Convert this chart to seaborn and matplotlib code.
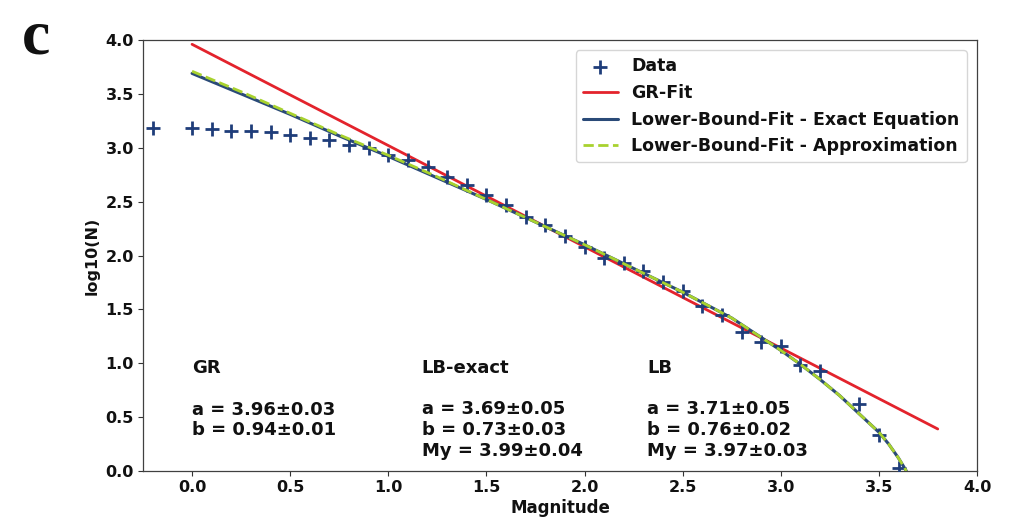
import matplotlib
matplotlib.use("Agg")
import matplotlib.pyplot as plt
import seaborn as sns

# Magnitude-frequency data (cumulative counts, log10)
magnitude = [-0.2, 0.0, 0.1, 0.2, 0.3, 0.4, 0.5, 0.6, 0.7, 0.8, 0.9,
             1.0, 1.1, 1.2, 1.3, 1.4, 1.5, 1.6, 1.7, 1.8, 1.9,
             2.0, 2.1, 2.2, 2.3, 2.4, 2.5, 2.6, 2.7, 2.8, 2.9,
             3.0, 3.1, 3.2, 3.4, 3.5, 3.6]
log_n = [3.18, 3.18, 3.17, 3.16, 3.155, 3.15, 3.12, 3.09, 3.07, 3.03, 3.00,
         2.93, 2.89, 2.82, 2.73, 2.65, 2.56, 2.47, 2.36, 2.28, 2.18,
         2.08, 1.98, 1.93, 1.86, 1.75, 1.67, 1.53, 1.45, 1.29, 1.20,
         1.16, 0.98, 0.93, 0.62, 0.33, 0.03]

# Gutenberg-Richter straight-line fit
gr_mag = [0.0, 3.8]
gr_logn = [3.96, 0.39]

# Lower-bound fits
lb_mag = [0.0, 0.25, 0.5, 0.75, 1.0, 1.25, 1.5, 1.75, 2.0, 2.25, 2.5, 2.75,
          3.0, 3.1, 3.2, 3.3, 3.4, 3.5, 3.55, 3.6, 3.64]
lb_exact = [3.69, 3.50, 3.31, 3.11, 2.92, 2.72, 2.52, 2.31, 2.10, 1.88, 1.66, 1.42,
            1.12, 0.99, 0.85, 0.70, 0.53, 0.36, 0.25, 0.12, 0.0]
lb_approx = [3.71, 3.52, 3.32, 3.12, 2.93, 2.73, 2.52, 2.31, 2.10, 1.88, 1.66, 1.42,
             1.12, 0.99, 0.85, 0.70, 0.53, 0.36, 0.25, 0.12, 0.0]

x_ticks = [0.0, 0.5, 1.0, 1.5, 2.0, 2.5, 3.0, 3.5, 4.0]
y_ticks = [0.0, 0.5, 1.0, 1.5, 2.0, 2.5, 3.0, 3.5, 4.0]

gr_text = "GR\n\na = 3.96\u00b10.03\nb = 0.94\u00b10.01"
lbx_text = "LB-exact\n\na = 3.69\u00b10.05\nb = 0.73\u00b10.03\nMy = 3.99\u00b10.04"
lb_text = "LB\n\na = 3.71\u00b10.05\nb = 0.76\u00b10.02\nMy = 3.97\u00b10.03"

sns.set_theme(style="ticks")
plt.rcParams["font.family"] = ["DejaVu Sans"]
plt.rcParams["font.weight"] = "bold"
plt.rcParams["text.color"] = "#111111"

W, H = 1025, 523
fig = plt.figure(figsize=(W / 100, H / 100), dpi=100)
fig.patch.set_facecolor("white")
ax = fig.add_axes([143 / W, 1 - 471 / H, (977 - 143) / W, (471 - 40) / H])

navy = "#1f3d7a"
sns.scatterplot(x=magnitude, y=log_n, marker="+", s=90, linewidth=2.0,
                color=navy, label="Data", ax=ax, zorder=3)
sns.lineplot(x=gr_mag, y=gr_logn, color="#e3232c", linewidth=2.0,
             label="GR-Fit", ax=ax, sort=False, zorder=2)
sns.lineplot(x=lb_mag, y=lb_exact, color="#2a4a78", linewidth=2.2,
             label="Lower-Bound-Fit - Exact Equation", ax=ax, sort=False, zorder=2)
sns.lineplot(x=lb_mag, y=lb_approx, color="#a8d22e", linewidth=2.0, linestyle="--",
             label="Lower-Bound-Fit - Approximation", ax=ax, sort=False, zorder=4)

ax.set_xlim(-0.25, 4.0)
ax.set_ylim(0.0, 4.0)
ax.set_xticks(x_ticks)
ax.set_yticks(y_ticks)
ax.set_xticklabels([f"{v:.1f}" for v in x_ticks], fontsize=11.5, fontweight="bold")
ax.set_yticklabels([f"{v:.1f}" for v in y_ticks], fontsize=11.5, fontweight="bold")
ax.tick_params(length=3.5, width=0.8, color="0.2", labelcolor="#111111", pad=3)
for sp in ax.spines.values():
    sp.set_visible(True)
    sp.set_linewidth(0.9)
    sp.set_color("0.25")

ax.set_xlabel("Magnitude", fontsize=12, fontweight="bold", labelpad=3, color="#111111")
ax.set_ylabel("log10(N)", fontsize=11.5, fontweight="bold", labelpad=4, color="#111111")

# fit-parameter blocks, anchored on the baseline of their last line
for (tx, ty, txt) in [(0.0, 0.33, gr_text), (1.17, 0.14, lbx_text), (2.32, 0.14, lb_text)]:
    ax.text(tx, ty, txt, fontsize=13, fontweight="bold", va="baseline",
            ha="left", linespacing=1.2, color="#111111")

leg = ax.legend(loc="upper right", prop={"weight": "bold", "size": 12.5},
                frameon=True, framealpha=0.8, fancybox=True, scatterpoints=1,
                borderaxespad=0.6)
leg.get_frame().set_edgecolor("0.8")

fig.text(22 / W, 1 - 54 / H, "c", fontsize=46, fontweight="bold",
         family="Liberation Serif", va="baseline", ha="left", color="#111111")

fig.savefig("out.png", dpi=100, facecolor="white")
